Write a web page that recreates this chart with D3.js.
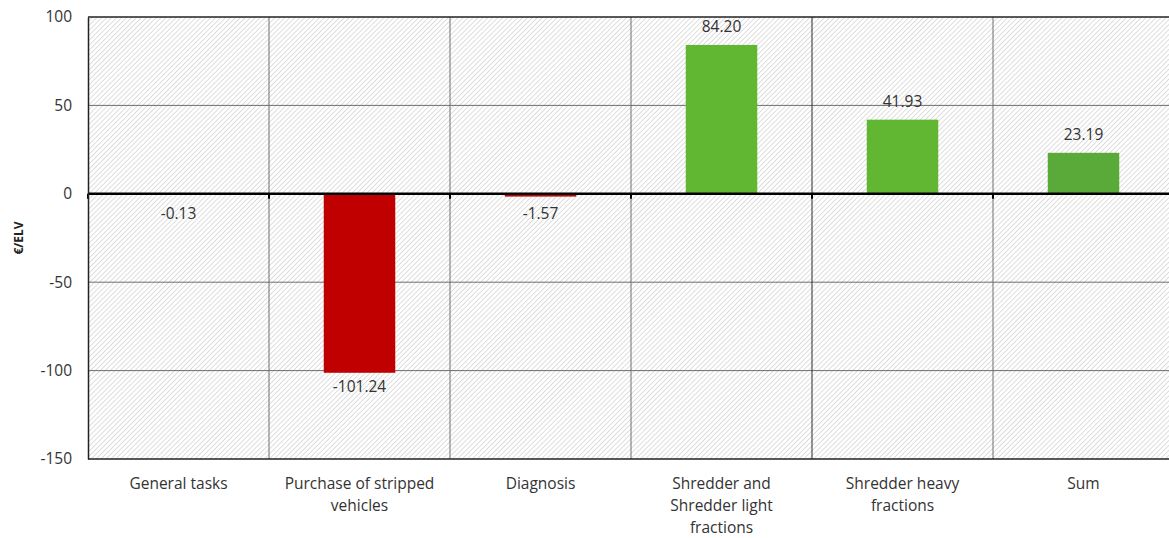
<!DOCTYPE html>
<html><head><meta charset="utf-8">
<script src="https://cdn.jsdelivr.net/npm/d3@7"></script>
<style>
html,body{margin:0;padding:0;background:#fff;}
svg{display:block;font-family:"Open Sans","Liberation Sans",Arial,sans-serif;}
</style></head>
<body><svg id="c" width="1169" height="538"></svg>
<script>
const categories = ["General tasks", "Purchase of stripped\nvehicles", "Diagnosis", "Shredder and\nShredder light\nfractions", "Shredder heavy\nfractions", "Sum"];
const values = [-0.13, -101.24, -1.57, 84.20, 41.93, 23.19];
const barColors = ["#c00000", "#c00000", "#c00000", "#62b732", "#62b732", "#5aaa3a"];
const yTicks = [100, 50, 0, -50, -100, -150];
const yTitle = "€/ELV";

const svg = d3.select("#c");
const W = 1169, H = 538;
const m = {left: 88, right: -5, top: 17, bottom: 79};
const x = d3.scaleBand().domain(d3.range(categories.length)).range([m.left, W - m.right]).paddingInner(0).paddingOuter(0);
const y = d3.scaleLinear().domain([-150, 100]).range([H - m.bottom, m.top]);
const FS = 15.5;

// hatch pattern
const defs = svg.append("defs");
const pat = defs.append("pattern").attr("id", "hatch").attr("patternUnits", "userSpaceOnUse")
  .attr("width", 3.5).attr("height", 3.5).attr("patternTransform", "rotate(45)");
pat.append("rect").attr("width", 3.5).attr("height", 3.5).attr("fill", "#ffffff");
pat.append("line").attr("x1", 0).attr("y1", 0).attr("x2", 0).attr("y2", 3.5)
  .attr("stroke", "#c8c8c8").attr("stroke-width", 1.2);

const x0 = m.left, x1 = W - m.right;
svg.append("rect").attr("x", x0).attr("y", y(100)).attr("width", x1 - x0).attr("height", y(-150) - y(100))
  .attr("fill", "url(#hatch)");

// horizontal gridlines
svg.append("g").selectAll("line").data(yTicks.filter(t => t !== 0 && t !== 100 && t !== -150)).join("line")
  .attr("x1", x0).attr("x2", x1).attr("y1", d => y(d)).attr("y2", d => y(d))
  .attr("stroke", "#6e6e6e").attr("stroke-width", 1);

// vertical gridlines at band boundaries
const bounds = d3.range(1, categories.length).map(i => x(i));
svg.append("g").selectAll("line").data(bounds).join("line")
  .attr("x1", d => d).attr("x2", d => d).attr("y1", y(100)).attr("y2", y(-150))
  .attr("stroke", (d, i) => i === 3 ? "#2a2a2a" : "#6e6e6e").attr("stroke-width", 1);

// top & bottom borders
svg.append("line").attr("x1", x0).attr("x2", x1).attr("y1", y(100)).attr("y2", y(100)).attr("stroke", "#222").attr("stroke-width", 1.5);
svg.append("line").attr("x1", x0).attr("x2", x1).attr("y1", y(-150)).attr("y2", y(-150)).attr("stroke", "#222").attr("stroke-width", 1.5);

// bars
const bw = x.bandwidth() * 0.395;
svg.append("g").selectAll("rect").data(values).join("rect")
  .attr("x", (d, i) => x(i) + (x.bandwidth() - bw) / 2)
  .attr("width", bw)
  .attr("y", d => y(Math.max(0, d)))
  .attr("height", d => Math.abs(y(d) - y(0)))
  .attr("fill", (d, i) => barColors[i]);

// zero line
svg.append("line").attr("x1", x0).attr("x2", x1).attr("y1", y(0)).attr("y2", y(0)).attr("stroke", "#000").attr("stroke-width", 2.5);
svg.append("g").selectAll("line").data([x0].concat(bounds)).join("line")
  .attr("x1", d => d).attr("x2", d => d).attr("y1", y(0)).attr("y2", y(0) + 5)
  .attr("stroke", "#000").attr("stroke-width", 2);

// y axis
const yAxis = d3.axisLeft(y).tickValues(yTicks).tickSize(0).tickPadding(16).tickFormat(d => String(d));
const gy = svg.append("g").attr("transform", `translate(${x0},0)`).call(yAxis);
gy.select(".domain").attr("stroke", "#222").attr("stroke-width", 1.5);
gy.selectAll("text").attr("font-size", FS).attr("fill", "#333").attr("font-family", "Open Sans");

svg.append("text").attr("transform", `translate(19,${y(-25)}) rotate(-90)`).attr("text-anchor", "middle")
  .attr("dy", "0.35em").attr("font-size", 12).attr("font-weight", "bold").attr("fill", "#222").text(yTitle);

// data labels
svg.append("g").selectAll("text").data(values).join("text")
  .attr("x", (d, i) => x(i) + x.bandwidth() / 2)
  .attr("y", d => d >= 0 ? y(d) - 18 : Math.max(y(d) + 14, y(0) + 20))
  .attr("dy", "0.35em")
  .attr("text-anchor", "middle").attr("font-size", FS).attr("fill", "#333")
  .text(d => d.toFixed(2));

// category labels
const gx = svg.append("g");
categories.forEach((c, i) => {
  const t = gx.append("text").attr("x", x(i) + x.bandwidth() / 2).attr("y", y(-150) + 25)
    .attr("text-anchor", "middle").attr("font-size", FS).attr("fill", "#333");
  c.split("\n").forEach((ln, j) => {
    t.append("tspan").attr("x", x(i) + x.bandwidth() / 2).attr("dy", j === 0 ? "0.35em" : 22).text(ln);
  });
});
</script></body></html>
